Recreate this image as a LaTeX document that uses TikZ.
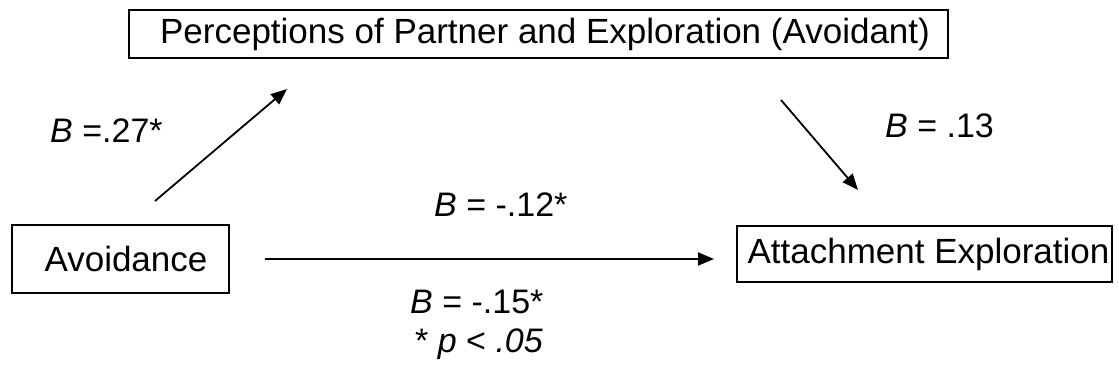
\documentclass[tikz,border=0pt]{standalone}
\usepackage{fontspec}
\setmainfont{Liberation Sans}
\usetikzlibrary{arrows.meta}
\begin{document}
\begin{tikzpicture}[x=1pt,y=-1pt,
  every node/.style={font=\fontsize{34}{40}\selectfont},
  varbox/.style={draw,line width=1.6pt,inner sep=0pt,font=\fontsize{35}{40}\selectfont},
  lbl/.style={anchor=base west,inner sep=0pt},
  path/.style={line width=1.8pt,-{Triangle[length=16pt,width=13pt]}}]
\useasboundingbox (0,0) rectangle (1119,374);
\node[varbox,minimum width=819pt,minimum height=48pt] (med) at (538.5,34) {\hspace*{13pt}Perceptions of Partner and Exploration (Avoidant)};
\node[varbox,minimum width=217pt,minimum height=68pt] (avo) at (120.5,259) {\hspace*{11pt}Avoidance};
\node[varbox,minimum width=375pt,minimum height=56pt] (att) at (924.5,254) {\hspace*{8pt}Attachment Exploration};
\coordinate (a1) at (155,201);
\coordinate (a2) at (287,89);
\coordinate (b1) at (781,100);
\coordinate (b2) at (858,190);
\coordinate (c1) at (265,259);
\coordinate (c2) at (714,259);
\draw[path] (a1) -- (a2);
\draw[path] (b1) -- (b2);
\draw[path] (c1) -- (c2);
\node[lbl] (la) at (50,143) {\textit{B} =.27*};
\node[lbl] (lb) at (885,138) {\textit{B} = .13};
\node[lbl] (lc) at (434,217) {\textit{B} = -.12*};
\node[lbl] (ld) at (410,313) {\textit{B} = -.15*};
\node[lbl] (le) at (415,352) {* \textit{p} < \textit{.05}};
\end{tikzpicture}
\end{document}
